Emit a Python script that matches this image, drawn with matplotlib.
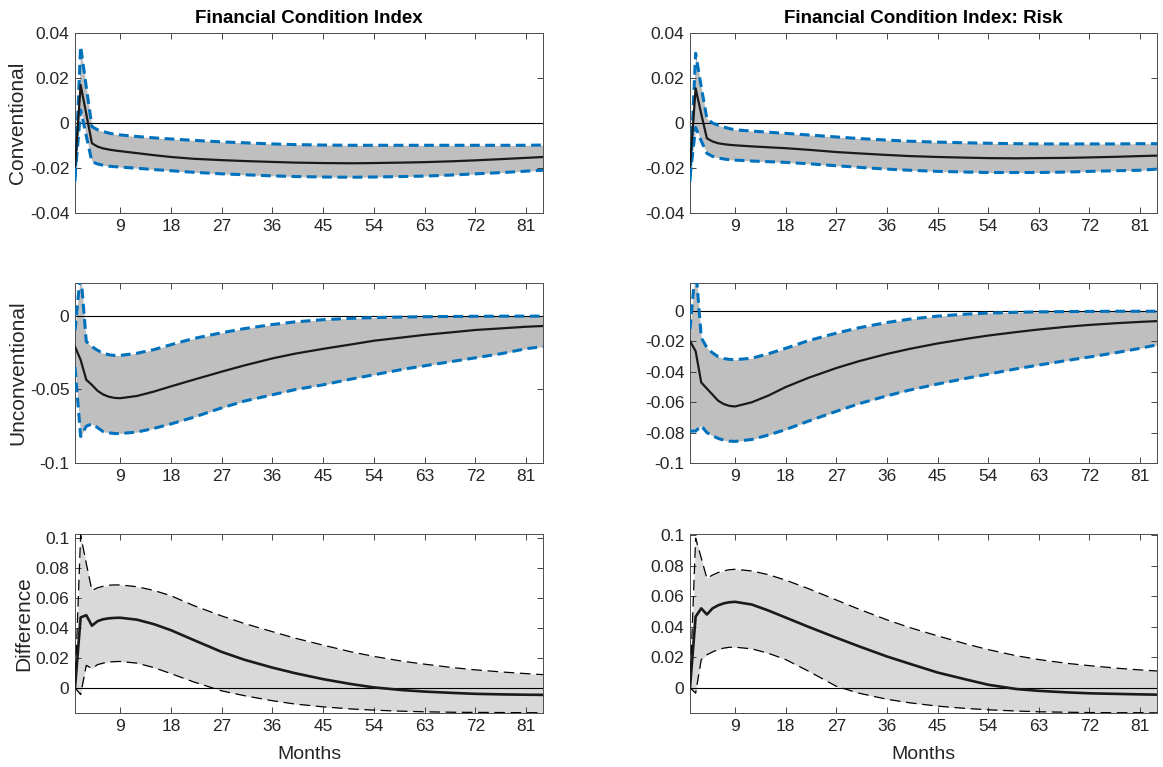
import matplotlib
matplotlib.use("Agg")
import matplotlib.pyplot as plt
import numpy as np

plt.rcParams['font.family'] = ['Liberation Sans', 'DejaVu Sans']

months = [1, 2, 3, 4, 5, 6, 7, 8, 9, 12, 15, 18, 22, 27, 31, 36, 40, 45, 50, 54, 59, 63, 68, 72, 77, 81, 84]

# ---- Financial Condition Index ----
conv_fci_med = [-0.0194, 0.0169, 0.0040, -0.0090, -0.0105, -0.0113, -0.0118, -0.0122, -0.0125, -0.0134, -0.0143, -0.0151,
                -0.0159, -0.0165, -0.0169, -0.0173, -0.0176, -0.0178, -0.0179, -0.0178, -0.0176, -0.0174, -0.0170, -0.0166,
                -0.0160, -0.0155, -0.0151]
conv_fci_up = [-0.0260, 0.0340, 0.0160, -0.0016, -0.0030, -0.0038, -0.0045, -0.0050, -0.0053, -0.0060, -0.0066, -0.0071,
               -0.0077, -0.0084, -0.0088, -0.0093, -0.0096, -0.0098, -0.0099, -0.0099, -0.0099, -0.0099, -0.0099, -0.0099,
               -0.0099, -0.0099, -0.0098]
conv_fci_lo = [-0.0240, 0.0058, -0.0057, -0.0172, -0.0182, -0.0188, -0.0192, -0.0194, -0.0196, -0.0201, -0.0207, -0.0212,
               -0.0219, -0.0226, -0.0230, -0.0235, -0.0238, -0.0240, -0.0241, -0.0240, -0.0238, -0.0236, -0.0231, -0.0226,
               -0.0220, -0.0214, -0.0210]

unconv_fci_med = [-0.0210, -0.0300, -0.0435, -0.0470, -0.0510, -0.0535, -0.0550, -0.0558, -0.0560, -0.0545, -0.0515, -0.0480,
                  -0.0435, -0.0380, -0.0338, -0.0290, -0.0258, -0.0225, -0.0195, -0.0170, -0.0148, -0.0130, -0.0112, -0.0097,
                  -0.0085, -0.0075, -0.0070]
unconv_fci_up = [-0.0100, 0.0300, -0.0175, -0.0210, -0.0235, -0.0255, -0.0265, -0.0270, -0.0270, -0.0255, -0.0230, -0.0197,
                 -0.0155, -0.0116, -0.0088, -0.0060, -0.0042, -0.0027, -0.0018, -0.0013, -0.0009, -0.0007, -0.0005, -0.0004,
                 -0.0003, -0.0003, -0.0003]
unconv_fci_lo = [-0.0350, -0.0820, -0.0750, -0.0735, -0.0760, -0.0787, -0.0795, -0.0800, -0.0800, -0.0790, -0.0765, -0.0735,
                 -0.0690, -0.0626, -0.0580, -0.0537, -0.0502, -0.0469, -0.0430, -0.0401, -0.0365, -0.0340, -0.0310, -0.0286,
                 -0.0255, -0.0224, -0.0210]

diff_fci_med = [0.0000, 0.0470, 0.0485, 0.0415, 0.0445, 0.0458, 0.0464, 0.0467, 0.0468, 0.0455, 0.0425, 0.0385,
                0.0320, 0.0240, 0.0188, 0.0135, 0.0098, 0.0058, 0.0025, 0.0003, -0.0015, -0.0025, -0.0034, -0.0040,
                -0.0044, -0.0046, -0.0047]
diff_fci_up = [0.0000, 0.1020, 0.0830, 0.0650, 0.0668, 0.0678, 0.0685, 0.0687, 0.0687, 0.0675, 0.0650, 0.0615,
               0.0550, 0.0480, 0.0430, 0.0375, 0.0332, 0.0285, 0.0240, 0.0210, 0.0178, 0.0158, 0.0135, 0.0120,
               0.0105, 0.0095, 0.0088]
diff_fci_lo = [0.0000, -0.0045, 0.0150, 0.0129, 0.0155, 0.0165, 0.0172, 0.0175, 0.0176, 0.0165, 0.0135, 0.0095,
               0.0040, -0.0020, -0.0052, -0.0086, -0.0108, -0.0127, -0.0141, -0.0149, -0.0156, -0.0160, -0.0163, -0.0164,
               -0.0165, -0.0166, -0.0166]

# ---- Financial Condition Index: Risk ----
conv_risk_med = [-0.0194, 0.0154, 0.0040, -0.0068, -0.0082, -0.0090, -0.0094, -0.0097, -0.0099, -0.0104, -0.0108, -0.0112,
                 -0.0119, -0.0129, -0.0135, -0.0142, -0.0147, -0.0151, -0.0154, -0.0156, -0.0157, -0.0156, -0.0155, -0.0153,
                 -0.0150, -0.0147, -0.0145]
conv_risk_up = [-0.0260, 0.0310, 0.0160, 0.0020, 0.0000, -0.0010, -0.0018, -0.0025, -0.0030, -0.0036, -0.0041, -0.0046,
                -0.0053, -0.0062, -0.0069, -0.0076, -0.0081, -0.0085, -0.0088, -0.0090, -0.0092, -0.0093, -0.0093, -0.0093,
                -0.0093, -0.0092, -0.0092]
conv_risk_lo = [-0.0240, -0.0020, -0.0080, -0.0135, -0.0148, -0.0155, -0.0160, -0.0163, -0.0165, -0.0169, -0.0172, -0.0175,
                -0.0181, -0.0190, -0.0197, -0.0205, -0.0210, -0.0215, -0.0218, -0.0220, -0.0220, -0.0220, -0.0218, -0.0215,
                -0.0212, -0.0210, -0.0205]

unconv_risk_med = [-0.0198, -0.0264, -0.0470, -0.0510, -0.0550, -0.0590, -0.0612, -0.0624, -0.0628, -0.0600, -0.0555, -0.0500,
                   -0.0440, -0.0375, -0.0330, -0.0282, -0.0249, -0.0213, -0.0183, -0.0161, -0.0138, -0.0121, -0.0103, -0.0091,
                   -0.0079, -0.0071, -0.0066]
unconv_risk_up = [-0.0120, 0.0300, -0.0176, -0.0240, -0.0275, -0.0300, -0.0312, -0.0318, -0.0320, -0.0310, -0.0280, -0.0245,
                  -0.0195, -0.0145, -0.0110, -0.0075, -0.0053, -0.0033, -0.0020, -0.0013, -0.0008, -0.0005, -0.0003, -0.0002,
                  -0.0001, -0.0001, -0.0001]
unconv_risk_lo = [-0.0790, -0.0790, -0.0755, -0.0800, -0.0820, -0.0838, -0.0850, -0.0856, -0.0858, -0.0845, -0.0815, -0.0780,
                  -0.0725, -0.0660, -0.0610, -0.0558, -0.0520, -0.0480, -0.0443, -0.0415, -0.0380, -0.0355, -0.0325, -0.0302,
                  -0.0272, -0.0245, -0.0222]

diff_risk_med = [0.0000, 0.0466, 0.0520, 0.0480, 0.0520, 0.0540, 0.0553, 0.0560, 0.0563, 0.0545, 0.0505, 0.0460,
                 0.0400, 0.0328, 0.0272, 0.0205, 0.0158, 0.0100, 0.0055, 0.0020, -0.0008, -0.0020, -0.0030, -0.0036,
                 -0.0040, -0.0043, -0.0045]
diff_risk_up = [0.0000, 0.0980, 0.0850, 0.0717, 0.0738, 0.0755, 0.0766, 0.0773, 0.0776, 0.0765, 0.0740, 0.0705,
                0.0650, 0.0575, 0.0515, 0.0445, 0.0395, 0.0340, 0.0288, 0.0250, 0.0210, 0.0185, 0.0160, 0.0145,
                0.0128, 0.0117, 0.0110]
diff_risk_lo = [0.0000, -0.0035, 0.0185, 0.0216, 0.0235, 0.0250, 0.0260, 0.0265, 0.0266, 0.0255, 0.0225, 0.0185,
                0.0110, 0.0010, -0.0035, -0.0075, -0.0098, -0.0120, -0.0135, -0.0144, -0.0152, -0.0157, -0.0160, -0.0162,
                -0.0163, -0.0163, -0.0164]

titles = ["Financial Condition Index", "Financial Condition Index: Risk"]
row_labels = ["Conventional", "Unconventional", "Difference"]
x_ticks = [9, 18, 27, 36, 45, 54, 63, 72, 81]

panels = [
    [(conv_fci_med, conv_fci_up, conv_fci_lo), (conv_risk_med, conv_risk_up, conv_risk_lo)],
    [(unconv_fci_med, unconv_fci_up, unconv_fci_lo), (unconv_risk_med, unconv_risk_up, unconv_risk_lo)],
    [(diff_fci_med, diff_fci_up, diff_fci_lo), (diff_risk_med, diff_risk_up, diff_risk_lo)],
]

ylims = [
    [(-0.04, 0.04), (-0.04, 0.04)],
    [(-0.1, 0.0222), (-0.1, 0.0185)],
    [(-0.0168, 0.1027), (-0.0165, 0.1007)],
]
yticks = [
    [[-0.04, -0.02, 0, 0.02, 0.04], [-0.04, -0.02, 0, 0.02, 0.04]],
    [[-0.1, -0.05, 0], [-0.1, -0.08, -0.06, -0.04, -0.02, 0]],
    [[0, 0.02, 0.04, 0.06, 0.08, 0.1], [0, 0.02, 0.04, 0.06, 0.08, 0.1]],
]

def fmt(v):
    if abs(v) < 1e-12:
        return "0"
    return ("%.2f" % v).rstrip("0").rstrip(".")

fig = plt.figure(figsize=(11.63, 7.67), dpi=100)

lefts = [75 / 1163, 690 / 1163]
widths = [468 / 1163, 467 / 1163]
bottoms = [1 - 213 / 767, 1 - 463 / 767, 1 - 713 / 767]
heights = [180 / 767, 180 / 767, 179 / 767]

tick_color = '#262626'
for r in range(3):
    for c in range(2):
        ax = fig.add_axes([lefts[c], bottoms[r], widths[c], heights[r]])
        med, up, lo = panels[r][c]
        if r < 2:
            ax.fill_between(months, lo, up, color='#BFBFBF', linewidth=0, zorder=1)
            ax.axhline(0, color='black', lw=0.8, zorder=2)
            ax.plot(months, up, color='#0072BD', lw=2.2, dashes=(3.2, 1.8), zorder=3)
            ax.plot(months, lo, color='#0072BD', lw=2.2, dashes=(3.2, 1.8), zorder=3)
            ax.plot(months, med, color='#1a1a1a', lw=1.6, zorder=4)
        else:
            ax.fill_between(months, lo, up, color='#D9D9D9', linewidth=0, zorder=1)
            ax.axhline(0, color='black', lw=0.8, zorder=2)
            ax.plot(months, up, color='black', lw=0.9, dashes=(8.5, 4.5), zorder=3)
            ax.plot(months, lo, color='black', lw=0.9, dashes=(8.5, 4.5), zorder=3)
            ax.plot(months, med, color='#1a1a1a', lw=1.9, zorder=4)
        ax.set_xlim(1, 84)
        ax.set_ylim(*ylims[r][c])
        ax.set_xticks(x_ticks)
        ax.set_xticklabels([str(t) for t in x_ticks])
        ax.set_yticks(yticks[r][c])
        ax.set_yticklabels([fmt(v) for v in yticks[r][c]])
        ax.tick_params(direction='in', top=True, right=True, length=4, width=0.6,
                       color=tick_color, labelcolor=tick_color, labelsize=12.5, pad=4)
        for sp in ax.spines.values():
            sp.set_color('#4d4d4d')
            sp.set_linewidth(0.7)
        if r == 0:
            ax.set_title(titles[c], fontsize=13.5, fontweight='bold', color='black', pad=7)
        if c == 0:
            ax.set_ylabel(row_labels[r], fontsize=15, color=tick_color, labelpad=2)
        if r == 2:
            ax.set_xlabel("Months", fontsize=14, color=tick_color, labelpad=9)

fig.savefig("out.png", dpi=100)
